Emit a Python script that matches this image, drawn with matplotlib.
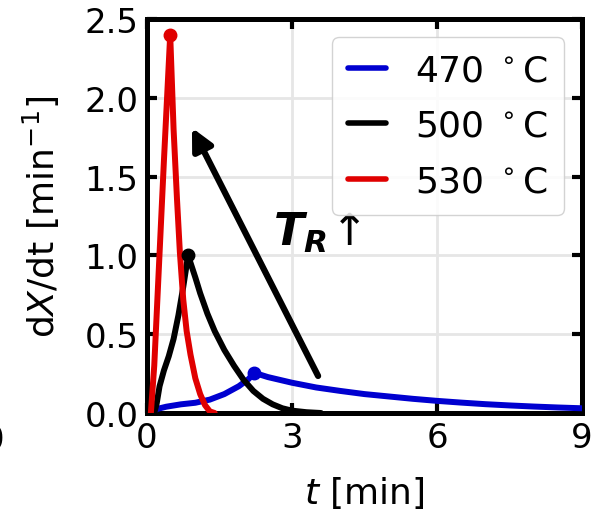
import matplotlib
matplotlib.use("Agg")
import matplotlib.pyplot as plt
import numpy as np

# conversion rate curves dX/dt at three reactor temperatures
labels = ["470 $^\\circ$C", "500 $^\\circ$C", "530 $^\\circ$C"]
colors = ["#0000d0", "#000000", "#e00000"]

t_470 = [0.10, 0.20, 0.40, 0.70, 1.00, 1.30, 1.60, 1.90, 2.10, 2.22,
         2.50, 3.00, 3.50, 4.00, 4.50, 5.00, 5.50, 6.00, 6.50, 7.00,
         7.50, 8.00, 8.50, 9.00]
r_470 = [0.000, 0.025, 0.040, 0.055, 0.065, 0.085, 0.120, 0.170, 0.215, 0.255,
         0.228, 0.192, 0.162, 0.140, 0.120, 0.105, 0.090, 0.077, 0.066, 0.056,
         0.048, 0.041, 0.035, 0.030]

t_500 = [0.15, 0.20, 0.26, 0.35, 0.45, 0.55, 0.65, 0.75, 0.85,
         1.00, 1.10, 1.25, 1.40, 1.60, 1.80, 2.00, 2.20, 2.40, 2.60,
         2.80, 3.00, 3.30, 3.60]
r_500 = [0.00, 0.06, 0.17, 0.27, 0.36, 0.47, 0.62, 0.80, 1.00,
         0.86, 0.76, 0.63, 0.52, 0.40, 0.30, 0.21, 0.14, 0.09, 0.055,
         0.030, 0.015, 0.005, 0.000]

t_530 = [0.08, 0.15, 0.25, 0.35, 0.48, 0.55, 0.62, 0.68, 0.75, 0.82,
         0.90, 1.00, 1.10, 1.20, 1.30, 1.40]
r_530 = [0.00, 0.30, 0.95, 1.60, 2.40, 1.80, 1.36, 1.02, 0.72, 0.52,
         0.37, 0.22, 0.12, 0.05, 0.01, 0.00]

series = [(t_470, r_470), (t_500, r_500), (t_530, r_530)]

x_ticks = [0, 3, 6, 9]
y_ticks = [0.0, 0.5, 1.0, 1.5, 2.0, 2.5]

fig = plt.figure(figsize=(5.99, 5.10), dpi=100)
ax = fig.add_axes([147 / 599, 96 / 510, 435 / 599, 394 / 510])

for (t, r), c, lab in zip(series, colors, labels):
    ax.plot(t, r, color=c, lw=4.3, label=lab, solid_capstyle="round", zorder=3)
    k = int(np.argmax(r))
    ax.plot([t[k]], [r[k]], "o", color=c, ms=9, zorder=4)

ax.set_xlim(0, 9)
ax.set_ylim(0, 2.5)
ax.set_xticks(x_ticks)
ax.set_yticks(y_ticks)
ax.set_yticklabels([f"{v:.1f}" for v in y_ticks])
ax.grid(True, color="#e6e6e6", lw=2.0, zorder=0)
ax.set_axisbelow(True)

for s in ax.spines.values():
    s.set_linewidth(3.6)
ax.tick_params(direction="in", length=7, width=3, labelsize=24.5,
               top=True, right=True, pad=6)

ax.set_xlabel("$t$ [min]", fontsize=26, labelpad=14)
ax.set_ylabel("d$X$/dt [min$^{-1}$]", fontsize=26, labelpad=16)

# temperature trend arrow
ax.annotate("", xy=(0.93, 1.81), xytext=(3.54, 0.235),
            arrowprops=dict(arrowstyle="-|>", lw=4.5, color="k",
                            mutation_scale=32, shrinkA=0, shrinkB=0),
            zorder=5)
ax.text(2.6, 1.07, r"$\mathbfit{T}_{\mathbfit{R}}\!\uparrow$", fontsize=32,
        ha="left", va="baseline", zorder=5)

leg = ax.legend(loc="upper right", fontsize=26, handlelength=1.05,
                borderaxespad=0.5, labelspacing=0.6, borderpad=0.45,
                framealpha=0.85, fancybox=True, handletextpad=0.8)
for h in leg.get_lines():
    h.set_linewidth(4)

# clipped tick digit at the left border
fig.text(4 / 599, 1 - 440 / 510, "0", fontsize=24.5, ha="right", va="center")

fig.savefig("out.png", dpi=100)
